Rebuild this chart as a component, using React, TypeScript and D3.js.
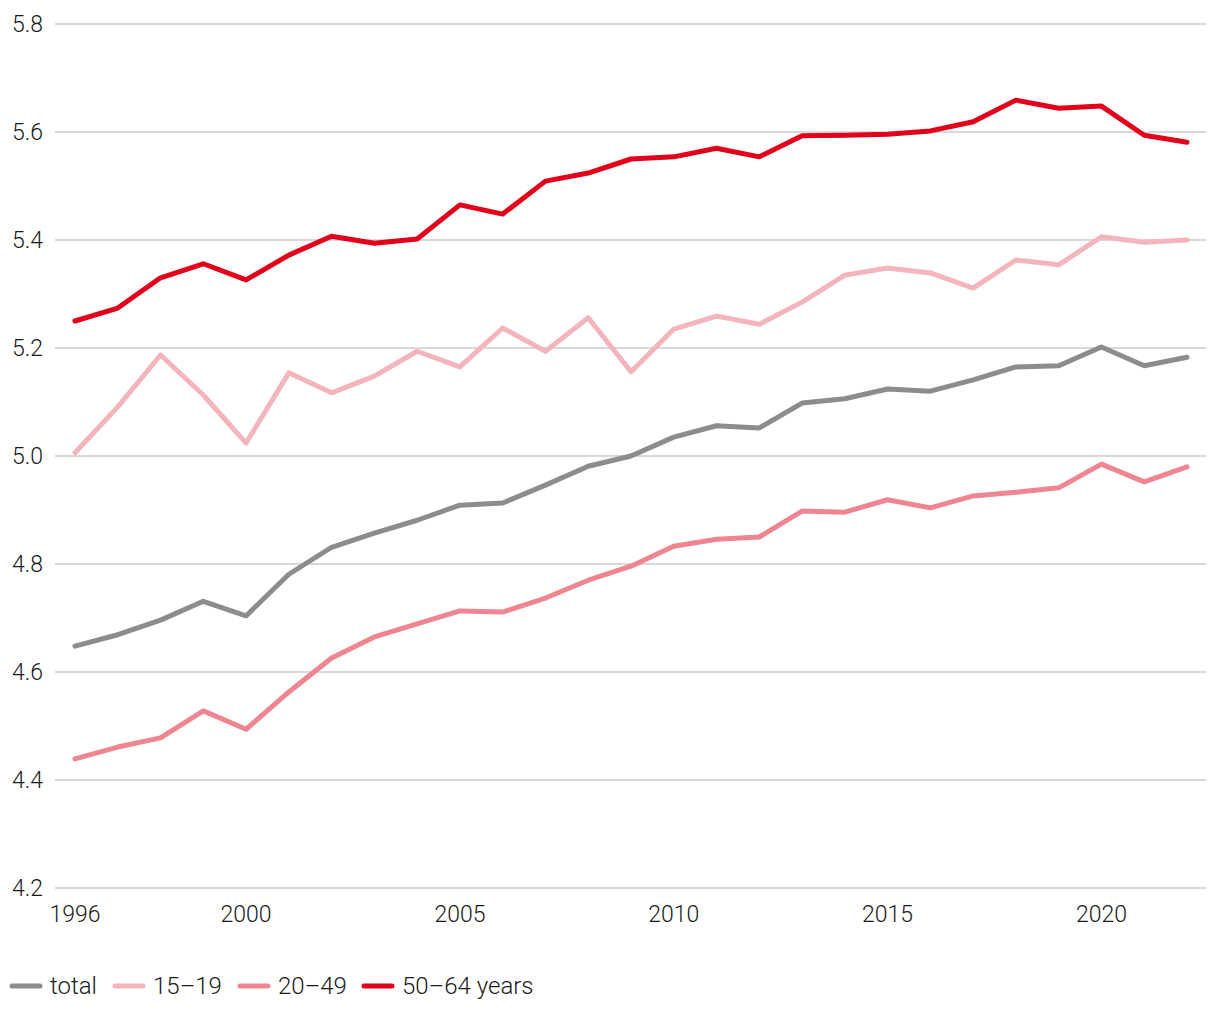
import React from "react";
import * as d3 from "d3";

const years = d3.range(1996, 2023);
const total = [4.648, 4.669, 4.696, 4.731, 4.704, 4.781, 4.831, 4.857, 4.881, 4.909, 4.913, 4.946, 4.981, 5.0, 5.035, 5.056, 5.052, 5.098, 5.106, 5.124, 5.12, 5.141, 5.165, 5.167, 5.202, 5.167, 5.183];
const age15_19 = [5.006, 5.091, 5.187, 5.113, 5.024, 5.154, 5.117, 5.148, 5.194, 5.165, 5.237, 5.194, 5.256, 5.156, 5.235, 5.259, 5.244, 5.285, 5.335, 5.348, 5.339, 5.311, 5.363, 5.354, 5.406, 5.396, 5.4];
const age20_49 = [4.439, 4.461, 4.478, 4.528, 4.494, 4.563, 4.626, 4.665, 4.689, 4.713, 4.711, 4.737, 4.77, 4.796, 4.833, 4.846, 4.85, 4.898, 4.896, 4.919, 4.904, 4.926, 4.933, 4.941, 4.985, 4.952, 4.98];
const age50_64 = [5.25, 5.274, 5.33, 5.356, 5.326, 5.372, 5.407, 5.394, 5.402, 5.465, 5.448, 5.509, 5.524, 5.55, 5.554, 5.57, 5.554, 5.593, 5.594, 5.596, 5.602, 5.619, 5.659, 5.644, 5.648, 5.594, 5.581];
const yTicks = [4.2, 4.4, 4.6, 4.8, 5.0, 5.2, 5.4, 5.6, 5.8];
const xTicks = [1996, 2000, 2005, 2010, 2015, 2020];

const series = [
  { name: "total", values: total, color: "#8c8c8c" },
  { name: "15–19", values: age15_19, color: "#f4b4bb" },
  { name: "20–49", values: age20_49, color: "#ef8591" },
  { name: "50–64 years", values: age50_64, color: "#e2001a" },
];

const font = "Roboto, sans-serif";

export default function App() {
  const x = d3.scaleLinear().domain([1996, 2022]).range([75, 1187]);
  const y = d3.scaleLinear().domain([4.2, 5.8]).range([888, 24]);
  const line = d3
    .line<number>()
    .x((_, i) => x(years[i]))
    .y((d) => y(d));
  const legendX = [10, 113, 238, 362];
  return (
    <svg width={1220} height={1020} style={{ position: "absolute", left: 0, top: 0 }} fontFamily={font}>
      <rect width={1220} height={1020} fill="#fff" />
      {yTicks.map((t) => (
        <g key={t}>
          <line x1={55} x2={1206} y1={y(t)} y2={y(t)} stroke="#cccccc" strokeWidth={1.6} />
          <text x={43} y={y(t)} dy="0.35em" textAnchor="end" fontSize={23} fontWeight={300} fill="#1a1a1a">
            {t.toFixed(1)}
          </text>
        </g>
      ))}
      {xTicks.map((t) => (
        <text key={t} x={x(t)} y={922} textAnchor="middle" fontSize={23} fontWeight={300} fill="#1a1a1a">
          {t}
        </text>
      ))}
      {series.map((s) => (
        <path key={s.name} d={line(s.values) || ""} fill="none" stroke={s.color} strokeWidth={5} strokeLinejoin="round" strokeLinecap="round" />
      ))}
      {series.map((s, i) => (
        <g key={s.name} transform={`translate(${legendX[i]},986)`}>
          <line x1={2} x2={30} y1={0} y2={0} stroke={s.color} strokeWidth={5} strokeLinecap="round" />
          <text x={40} y={0} dy="0.35em" fontSize={24} fontWeight={300} fill="#1a1a1a">
            {s.name}
          </text>
        </g>
      ))}
    </svg>
  );
}
